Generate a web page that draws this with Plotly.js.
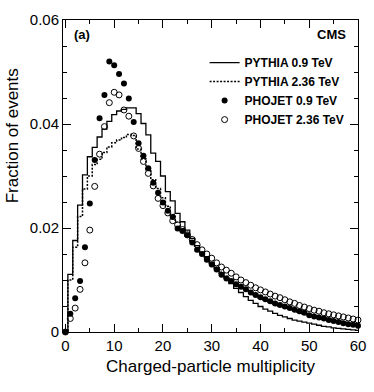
<!DOCTYPE html>
<html>
<head>
<meta charset="utf-8">
<script src="https://cdn.plot.ly/plotly-3.0.1.min.js"></script>
<style>
  body { margin: 0; background: #fff; }
  #chart { width: 374px; height: 392px; }
</style>
</head>
<body>
<div id="chart"></div>
<script>
// charged-particle multiplicity bins
const multiplicity = [
  0, 1, 2, 3, 4, 5, 6, 7, 8, 9,
  10, 11, 12, 13, 14, 15, 16, 17, 18, 19,
  20, 21, 22, 23, 24, 25, 26, 27, 28, 29,
  30, 31, 32, 33, 34, 35, 36, 37, 38, 39,
  40, 41, 42, 43, 44, 45, 46, 47, 48, 49,
  50, 51, 52, 53, 54, 55, 56, 57, 58, 59, 60
];

const pythia09 = [
  0.0000, 0.0111, 0.0176, 0.0244, 0.0302, 0.0337, 0.0355, 0.0375, 0.0390, 0.0405,
  0.0418, 0.0425, 0.0428, 0.0431, 0.0431, 0.0420, 0.0401, 0.0379, 0.0344, 0.0328,
  0.0300, 0.0270, 0.0252, 0.0228, 0.0212, 0.0196, 0.0180, 0.0166, 0.0153, 0.0145,
  0.0134, 0.0124, 0.0113, 0.0104, 0.0093, 0.0084, 0.0076, 0.0068, 0.0061, 0.0055,
  0.0049, 0.0044, 0.0040, 0.0036, 0.0032, 0.0029, 0.0026, 0.0023, 0.0021, 0.0019,
  0.0017, 0.0015, 0.0013, 0.0011, 0.0010, 0.0008, 0.0007, 0.0006, 0.0005, 0.0004, 0.0003
];

const pythia236 = [
  0.0000, 0.0100, 0.0163, 0.0222, 0.0275, 0.0300, 0.0322, 0.0332, 0.0345, 0.0356,
  0.0364, 0.0369, 0.0374, 0.0380, 0.0378, 0.0352, 0.0333, 0.0312, 0.0293, 0.0276,
  0.0258, 0.0242, 0.0226, 0.0211, 0.0198, 0.0185, 0.0173, 0.0162, 0.0151, 0.0141,
  0.0132, 0.0123, 0.0115, 0.0107, 0.0100, 0.0093, 0.0087, 0.0081, 0.0076, 0.0071,
  0.0066, 0.0062, 0.0058, 0.0054, 0.0050, 0.0047, 0.0044, 0.0041, 0.0038, 0.0035,
  0.0033, 0.0031, 0.0029, 0.0027, 0.0025, 0.0023, 0.0021, 0.0019, 0.0018, 0.0016, 0.0015
];

const phojet09 = [
  0.0000, 0.0035, 0.0065, 0.0098, 0.0163, 0.0247, 0.0331, 0.0411, 0.0456, 0.0520,
  0.0513, 0.0496, 0.0478, 0.0449, 0.0404, 0.0363, 0.0339, 0.0315, 0.0287, 0.0268,
  0.0249, 0.0233, 0.0221, 0.0199, 0.0194, 0.0186, 0.0172, 0.0158, 0.0150, 0.0139,
  0.0130, 0.0120, 0.0110, 0.0103, 0.0098, 0.0092, 0.0087, 0.0082, 0.0076, 0.0071,
  0.0067, 0.0063, 0.0059, 0.0055, 0.0052, 0.0049, 0.0046, 0.0043, 0.0040, 0.0037,
  0.0032, 0.0030, 0.0028, 0.0026, 0.0023, 0.0021, 0.0019, 0.0017, 0.0015, 0.0014, 0.0012
];

const phojet236 = [
  0.0000, 0.0026, 0.0046, 0.0082, 0.0133, 0.0196, 0.0280, 0.0342, 0.0395, 0.0441,
  0.0461, 0.0456, 0.0427, 0.0415, 0.0377, 0.0353, 0.0328, 0.0305, 0.0281, 0.0257,
  0.0243, 0.0229, 0.0214, 0.0206, 0.0197, 0.0187, 0.0178, 0.0168, 0.0158, 0.0150,
  0.0142, 0.0133, 0.0125, 0.0119, 0.0113, 0.0106, 0.0100, 0.0095, 0.0090, 0.0085,
  0.0081, 0.0077, 0.0073, 0.0069, 0.0066, 0.0062, 0.0058, 0.0055, 0.0051, 0.0048,
  0.0045, 0.0042, 0.0040, 0.0037, 0.0035, 0.0033, 0.0031, 0.0029, 0.0027, 0.0025, 0.0023
];

const FONT = 'Liberation Sans, Arial, Helvetica, sans-serif';

const traces = [
  {
    x: multiplicity, y: pythia09, name: 'PYTHIA 0.9 TeV',
    type: 'scatter', mode: 'lines',
    line: { shape: 'hvh', color: 'black', width: 1.3 }
  },
  {
    x: multiplicity, y: pythia236, name: 'PYTHIA 2.36 TeV',
    type: 'scatter', mode: 'lines',
    line: { shape: 'hvh', color: 'black', width: 1.5, dash: '2px,1.5px' }
  },
  {
    x: multiplicity, y: phojet09, name: 'PHOJET 0.9 TeV',
    type: 'scatter', mode: 'markers', cliponaxis: false,
    marker: { symbol: 'circle', size: 6, color: 'black' }
  },
  {
    x: multiplicity, y: phojet236, name: 'PHOJET 2.36 TeV',
    type: 'scatter', mode: 'markers', cliponaxis: false,
    marker: { symbol: 'circle-open', size: 6, color: 'black', line: { width: 1, color: 'black' } }
  }
];

const layout = {
  width: 374,
  height: 392,
  margin: { l: 63, r: 16, t: 20, b: 60 },
  paper_bgcolor: 'white',
  plot_bgcolor: 'white',
  font: { family: FONT, color: 'black', size: 15 },
  showlegend: true,
  legend: {
    x: 0.48, y: 0.91, xanchor: 'left', yanchor: 'top',
    bgcolor: 'rgba(0,0,0,0)',
    font: { family: FONT, size: 12, weight: 'bold', color: 'black' }
  },
  xaxis: {
    range: [-0.5, 60],
    tick0: 0, dtick: 10,
    ticks: 'inside', ticklen: 8, tickwidth: 1, tickcolor: 'black',
    minor: { tick0: 0, dtick: 5, ticks: 'inside', ticklen: 4, tickcolor: 'black' },
    showline: true, linecolor: 'black', linewidth: 1, mirror: 'allticks',
    showgrid: false, zeroline: false,
    tickfont: { size: 15 },
    title: { text: 'Charged-particle multiplicity', font: { size: 17 }, standoff: 7 }
  },
  yaxis: {
    range: [0, 0.06],
    tick0: 0, dtick: 0.02,
    ticks: 'inside', ticklen: 8, tickwidth: 1, tickcolor: 'black',
    minor: { tick0: 0, dtick: 0.005, ticks: 'inside', ticklen: 4, tickcolor: 'black' },
    showline: true, linecolor: 'black', linewidth: 1, mirror: 'allticks',
    showgrid: false, zeroline: false,
    tickfont: { size: 15 }
  },
  annotations: [
    {
      text: 'Fraction of events', textangle: -90,
      xref: 'paper', yref: 'paper', x: -0.172, y: 0.628,
      xanchor: 'center', yanchor: 'middle', showarrow: false,
      font: { size: 17 }
    },
    {
      text: '<b>(a)</b>',
      xref: 'paper', yref: 'paper', x: 0.03, y: 0.952,
      xanchor: 'left', yanchor: 'middle', showarrow: false,
      font: { size: 13 }
    },
    {
      text: '<b>CMS</b>',
      xref: 'paper', yref: 'paper', x: 0.965, y: 0.955,
      xanchor: 'right', yanchor: 'middle', showarrow: false,
      font: { size: 13 }
    }
  ]
};

Plotly.newPlot('chart', traces, layout, { displayModeBar: false, staticPlot: true });
</script>
</body>
</html>
